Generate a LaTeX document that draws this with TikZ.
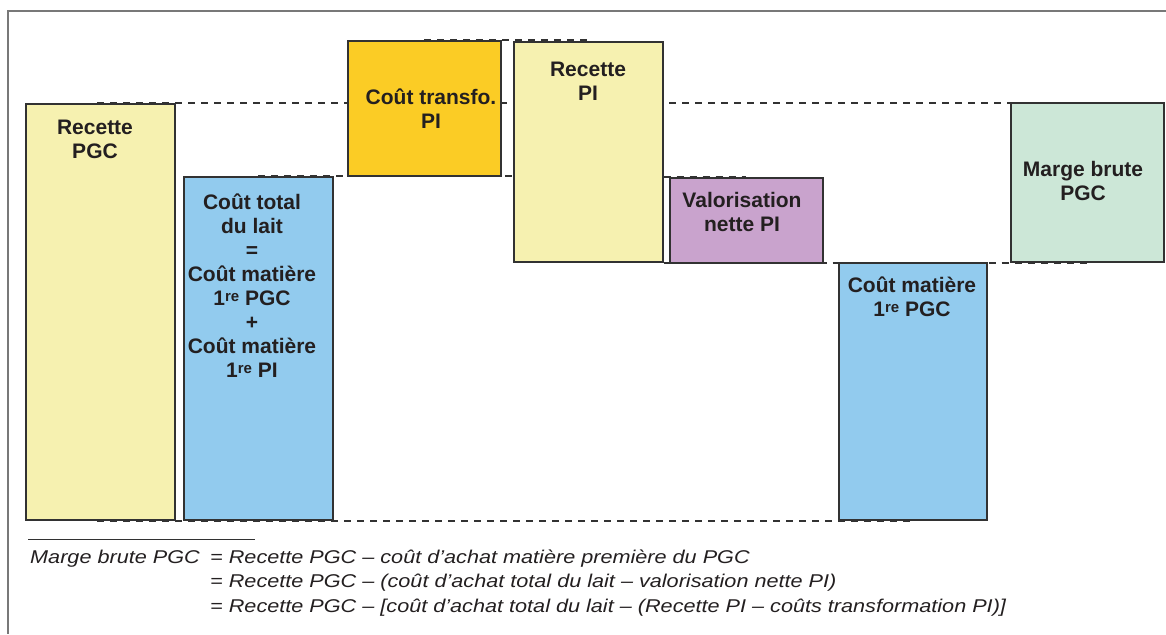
\documentclass[tikz,border=0pt]{standalone}
\usepackage{fontspec}
\setmainfont{Liberation Sans}
\newfontfamily\footfont[FakeStretch=1.17]{Liberation Sans}
\usepackage{tikz}
\usepackage{xcolor}
\usetikzlibrary{positioning,backgrounds}

\definecolor{recette}{RGB}{246,241,176}
\definecolor{cout}{RGB}{146,203,238}
\definecolor{transfo}{RGB}{251,204,37}
\definecolor{valo}{RGB}{201,163,205}
\definecolor{marge}{RGB}{204,231,215}
\definecolor{trait}{RGB}{50,50,50}
\definecolor{encre}{RGB}{35,31,32}
\definecolor{cadre}{RGB}{120,120,120}

\newcommand{\ere}{\raisebox{3.5pt}{\fontsize{15}{15}\selectfont re}}

\tikzset{
  bar/.style={draw=trait, line width=1.7pt, anchor=north west, inner sep=0pt},
  lbl/.style={font=\bfseries\fontsize{21}{24}\selectfont, align=center, inner sep=0pt, text=encre, anchor=base},
  guide/.style={draw=trait, line width=2.1pt, dash pattern=on 7pt off 6pt},
  foot/.style={font=\footfont\itshape\fontsize{18.5}{24}\selectfont, inner sep=0pt, text=encre, anchor=base west}
}

\begin{document}
\begin{tikzpicture}[x=1pt,y=-1pt]
\useasboundingbox (0,0) rectangle (1166,634);
\draw [cadre, line width=1.5pt] (1166,11) -- (8,11) -- (8,634);
% barres
\node [bar, fill=recette, minimum width=149pt, minimum height=416pt] (rpgc) at (25,103) {};
\node [bar, fill=cout, minimum width=149pt, minimum height=343pt] (ctot) at (183,176) {};
\node [bar, fill=transfo, minimum width=153pt, minimum height=135pt] (ctr) at (347,40) {};
\node [bar, fill=recette, minimum width=149pt, minimum height=220pt] (rpi) at (513,41) {};
\node [bar, fill=valo, minimum width=153pt, minimum height=85pt] (val) at (669,177) {};
\node [bar, fill=cout, minimum width=148pt, minimum height=257pt] (cmat) at (838,262) {};
\node [bar, fill=marge, minimum width=153pt, minimum height=159pt] (mb) at (1010,102) {};
% lignes de niveau
\begin{scope}[on background layer]
\draw [guide] ([xshift=-3pt]rpgc.north) -- (rpgc.north -| mb.north);
\draw [guide] (ctot.north) -- (ctot.north -| rpi.west);
\draw [guide] (ctr.north) -- (ctr.north -| rpi.north);
\draw [guide] (val.north -| rpi.east) -- (val.north);
\draw [guide] (rpi.south east) -- (rpi.south -| mb.south);
\draw [guide] ([xshift=-3pt]rpgc.south) -- (rpgc.south -| cmat.south);
\end{scope}
% textes (base = derniere ligne)
\node [lbl] (trpgc) at (95,158) {Recette\\PGC};
\node [lbl] (tctot) at (252,377) {Coût total\\du lait\\=\\Coût matière\\1\ere{} PGC\\+\\Coût matière\\1\ere{} PI};
\node [lbl] (tctr) at (431,128) {Coût transfo.\\PI};
\node [lbl] (trpi) at (588,100) {Recette\\PI};
\node [lbl] (tval) at (742,231) {Valorisation\\nette PI};
\node [lbl] (tcmat) at (912,316) {Coût matière\\1\ere{} PGC};
\node [lbl] (tmb) at (1083,200) {Marge brute\\PGC};
% formule
\draw [trait, line width=0.9pt] (28,539) -- (255,539);
\node [foot] (mbtxt) at (30,563) {Marge brute PGC};
\node [foot] (eq1) at (210,563) {= Recette PGC – coût d’achat matière première du PGC};
\node [foot] (eq2) at (210,587) {= Recette PGC – (coût d’achat total du lait – valorisation nette PI)};
\node [foot] (eq3) at (210,612) {= Recette PGC – [coût d’achat total du lait – (Recette PI – coûts transformation PI)]};
\end{tikzpicture}
\end{document}
